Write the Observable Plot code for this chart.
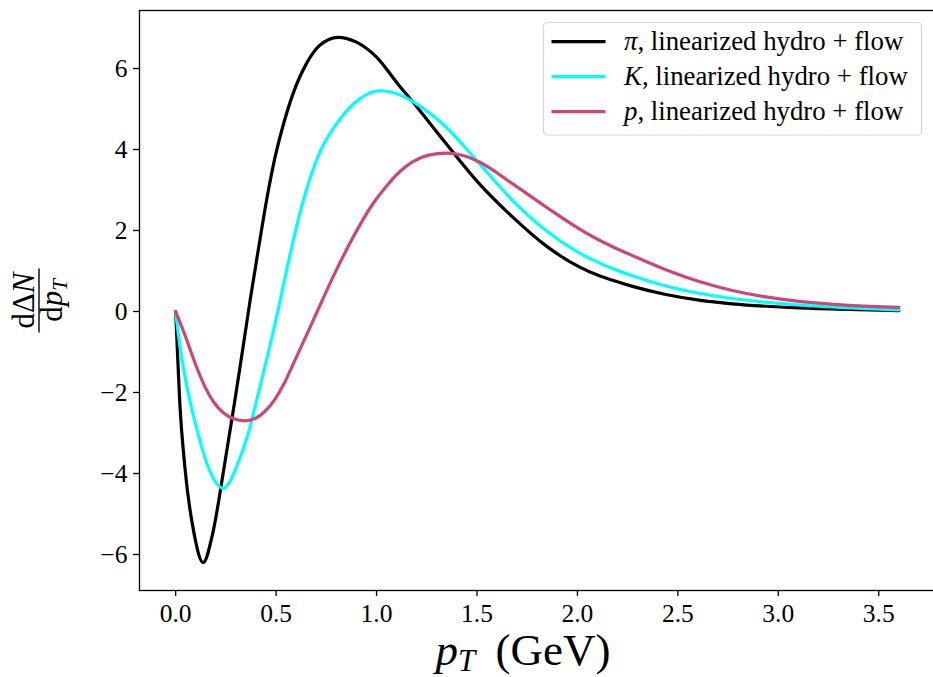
<!DOCTYPE html>
<html>
<head>
<meta charset="utf-8">
<script src="https://cdn.jsdelivr.net/npm/d3@7"></script>
<script src="https://cdn.jsdelivr.net/npm/@observablehq/plot@0.6"></script>
<style>
  html, body { margin: 0; padding: 0; background: #fff; }
  #chart svg { display: block; }
</style>
</head>
<body>
<div id="chart"></div>
<script>
// ---- data ----
const seriesNames = ["pi", "K", "p"];
const piX = [0, 0.005, 0.02, 0.046, 0.092, 0.137, 0.184, 0.2415, 0.2947, 0.341, 0.374, 0.4105, 0.46, 0.4935, 0.527, 0.5845, 0.651, 0.717, 0.808, 0.9, 1.0, 1.106, 1.181, 1.347, 1.512, 1.678, 1.844, 2.009, 2.109, 2.175, 2.274, 2.44, 2.606, 2.771, 2.937, 3.103, 3.351, 3.6];
const piY = [0, -0.55, -2.2, -3.85, -5.49, -6.2, -5.49, -3.84, -2.2, -0.7, 0.38, 1.5, 2.95, 3.78, 4.45, 5.38, 6.12, 6.57, 6.77, 6.65, 6.28, 5.62, 5.17, 4.14, 3.15, 2.33, 1.62, 1.1, 0.88, 0.77, 0.62, 0.42, 0.28, 0.19, 0.13, 0.09, 0.05, 0.02];
const kX = [0, 0.013, 0.038, 0.071, 0.112, 0.162, 0.2, 0.237, 0.27, 0.303, 0.361, 0.403, 0.444, 0.485, 0.52, 0.557, 0.6, 0.651, 0.717, 0.817, 0.916, 1.015, 1.115, 1.181, 1.347, 1.512, 1.678, 1.844, 2.009, 2.109, 2.175, 2.274, 2.44, 2.606, 2.771, 2.937, 3.103, 3.351, 3.6];
const kY = [0, -0.55, -1.37, -2.2, -3.02, -3.84, -4.22, -4.37, -4.2, -3.84, -3.02, -2.2, -1.37, -0.52, 0.26, 1.12, 2.06, 3.0, 3.92, 4.74, 5.25, 5.45, 5.35, 5.18, 4.55, 3.65, 2.74, 2.0, 1.45, 1.2, 1.06, 0.88, 0.63, 0.45, 0.32, 0.23, 0.16, 0.09, 0.04];
const pX = [0, 0.046, 0.104, 0.15, 0.19, 0.237, 0.29, 0.344, 0.4, 0.444, 0.494, 0.54, 0.585, 0.692, 0.783, 0.883, 0.982, 1.05, 1.115, 1.181, 1.26, 1.347, 1.43, 1.512, 1.678, 1.844, 2.009, 2.109, 2.175, 2.274, 2.44, 2.606, 2.771, 2.937, 3.103, 3.351, 3.6];
const pY = [0, -0.58, -1.37, -1.9, -2.24, -2.5, -2.65, -2.7, -2.63, -2.47, -2.17, -1.78, -1.3, -0.14, 0.85, 1.83, 2.66, 3.1, 3.45, 3.7, 3.86, 3.91, 3.85, 3.69, 3.15, 2.58, 2.04, 1.76, 1.6, 1.38, 1.03, 0.74, 0.52, 0.36, 0.25, 0.15, 0.1];
const seriesColors = ["#000000", "#00ffff", "#cc4778"];
const legendLabels = ["π", "K", "p"];
const xTicks = [0, 0.5, 1.0, 1.5, 2.0, 2.5, 3.0, 3.5];
const yTicks = [-6, -4, -2, 0, 2, 4, 6];

const rows = [];
[[piX, piY], [kX, kY], [pX, pY]].forEach(([xs, ys], i) => {
  xs.forEach((x, j) => rows.push({series: seriesNames[i], x, y: ys[j]}));
});

const FONT = "Liberation Serif, Times New Roman, serif";
const W = 933, H = 677;
const mL = 139, mT = 10, mB = 87, mR = -1.5;

const chart = Plot.plot({
  width: W,
  height: H,
  marginLeft: mL,
  marginRight: mR,
  marginTop: mT,
  marginBottom: mB,
  style: {fontFamily: FONT, fontSize: "25px", color: "#000", background: "#fff", overflow: "visible"},
  x: {domain: [-0.18, 3.78]},
  y: {domain: [-6.889, 7.432]},
  color: {domain: seriesNames, range: seriesColors},
  marks: [
    Plot.line(rows, {x: "x", y: "y", z: "series", stroke: "series", strokeWidth: 3.2, curve: "monotone-x"}),
    Plot.frame({stroke: "#000", strokeWidth: 1.3}),
    Plot.axisX({ticks: xTicks, tickFormat: d3.format(".1f"), tickSize: 6, tickPadding: 7, strokeWidth: 1.3, label: null, fontSize: 25.5}),
    Plot.axisY({ticks: yTicks, tickFormat: d => d < 0 ? "\u2212" + Math.abs(d) : String(d), tickSize: 6, tickPadding: 6, strokeWidth: 1.3, label: null, fontSize: 25.5})
  ]
});

document.getElementById("chart").appendChild(chart);
const svg = d3.select(chart.tagName.toLowerCase() === "svg" ? chart : chart.querySelector("svg"));

// x-axis label
const xl = svg.append("text")
  .attr("x", 523).attr("y", 665)
  .attr("text-anchor", "middle")
  .attr("font-family", FONT).attr("font-size", 45).attr("fill", "#000");
xl.append("tspan").attr("font-style", "italic").text("p");
xl.append("tspan").attr("font-style", "italic").attr("font-size", 31).attr("dy", 6).text("T");
xl.append("tspan").attr("dy", -6).text("\u2009 (GeV)");

// y-axis label: fraction dΔN / dp_T, rotated
const yl = svg.append("g").attr("transform", "translate(39,300.5) rotate(-90)")
  .attr("font-family", FONT).attr("font-size", 31).attr("fill", "#000");
const num = yl.append("text").attr("x", 0).attr("y", -5).attr("text-anchor", "middle");
num.append("tspan").text("dΔ");
num.append("tspan").attr("font-style", "italic").text("N");
yl.append("line").attr("x1", -32).attr("x2", 32).attr("y1", 0).attr("y2", 0)
  .attr("stroke", "#000").attr("stroke-width", 1.4);
const den = yl.append("text").attr("x", 0).attr("y", 23).attr("text-anchor", "middle");
den.append("tspan").text("d");
den.append("tspan").attr("font-style", "italic").text("p");
den.append("tspan").attr("font-style", "italic").attr("font-size", 21).attr("dy", 5).text("T");

// legend
const lg = svg.append("g").attr("font-family", FONT).attr("font-size", 26.8).attr("text-anchor", "start");
lg.append("rect").attr("x", 543.5).attr("y", 22.5).attr("width", 378).attr("height", 112.5)
  .attr("rx", 4).attr("fill", "#fff").attr("fill-opacity", 0.8)
  .attr("stroke", "#d5d5d5").attr("stroke-width", 1.2);
legendLabels.forEach((lab, i) => {
  const cy = 41.7 + i * 35;
  lg.append("line").attr("x1", 551.5).attr("x2", 605.5).attr("y1", cy).attr("y2", cy)
    .attr("stroke", seriesColors[i]).attr("stroke-width", 3.2);
  const t = lg.append("text").attr("x", 624).attr("y", cy + 8).attr("fill", "#000").attr("text-anchor", "start");
  t.append("tspan").attr("font-style", "italic").text(lab);
  t.append("tspan").text(", linearized hydro + flow");
});
</script>
</body>
</html>
